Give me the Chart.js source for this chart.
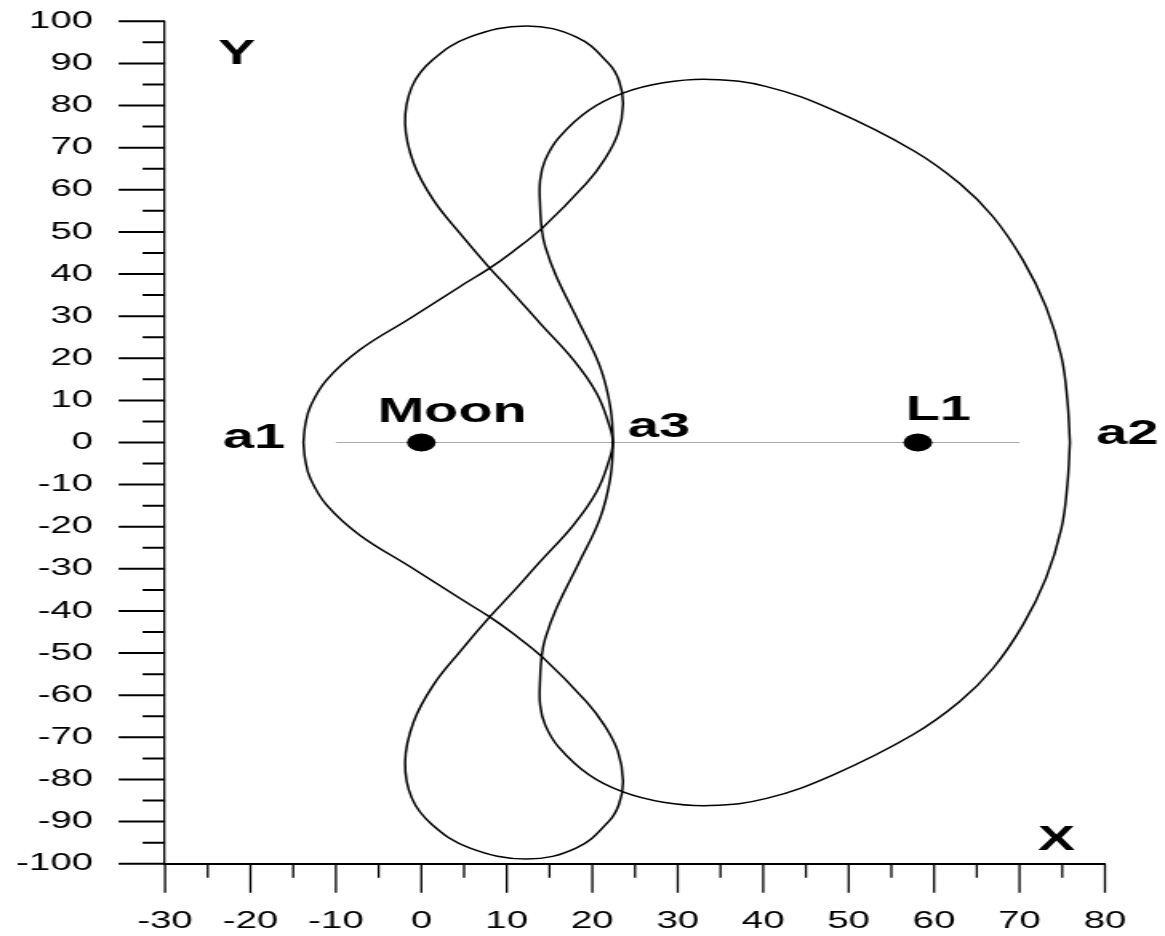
<!DOCTYPE html>
<html>
<head>
<meta charset="utf-8">
<title>Orbit</title>
<script src="https://cdn.jsdelivr.net/npm/chart.js@4"></script>
<style>
  html, body { margin: 0; padding: 0; background: #fff; }
</style>
</head>
<body>
<!-- canvas is drawn narrow and stretched wide, the source figure has wide lettering -->
<canvas id="chart" width="728" height="936" style="width:1165px;height:936px"></canvas>
<script>
// ============================
// Axis ticks
// ============================
const xTickValues = [-30, -20, -10, 0, 10, 20, 30, 40, 50, 60, 70, 80];
const xMinorValues = [-25, -15, -5, 5, 15, 25, 35, 45, 55, 65, 75];
const yTickValues = [-100, -90, -80, -70, -60, -50, -40, -30, -20, -10, 0, 10, 20, 30, 40, 50, 60, 70, 80, 90, 100];
const yMinorValues = [-95, -85, -75, -65, -55, -45, -35, -25, -15, -5, 5, 15, 25, 35, 45, 55, 65, 75, 85, 95];

// ============================
// Trajectory: a1 -> upper loop -> a3 -> lower loop -> a1
// ============================
const loopX = [-13.8, -13.6, -13.0, -11.1, -7.2, -1.3, 4.5, 8.0, 10.7, 14.3, 19.3, 21.4, 23.0, 23.6, 23.1, 21.9, 18.1, 12.3, 5.7, 1.3, -1.1, -1.9, -0.9, 1.4, 4.5, 8.0, 10.4, 13.9, 17.8, 20.5, 21.9, 22.4,
               21.9, 20.5, 17.8, 13.9, 10.4, 8.0, 4.5, 1.4, -0.9, -1.9, -1.1, 1.3, 5.7, 12.3, 18.1, 21.9, 23.1, 23.6, 23.0, 21.4, 19.3, 14.3, 10.7, 8.0, 4.5, -1.3, -7.2, -11.1, -13.0, -13.6, -13.8];
const loopY = [0, 4.0, 8.5, 14.8, 22.0, 29.5, 37.0, 41.4, 45.3, 51.2, 61.5, 67.1, 73.4, 80.5, 86.0, 90.0, 96.3, 98.9, 96.3, 90.8, 84.5, 75.8, 66.3, 57.6, 49.7, 41.4, 36.2, 28.3, 19.6, 11.7, 4.6, 0,
               -4.6, -11.7, -19.6, -28.3, -36.2, -41.4, -49.7, -57.6, -66.3, -75.8, -84.5, -90.8, -96.3, -98.9, -96.3, -90.0, -86.0, -80.5, -73.4, -67.1, -61.5, -51.2, -45.3, -41.4, -37.0, -29.5, -22.0, -14.8, -8.5, -4.0, 0];

// Trajectory: a2 -> upper arc -> a3 -> lower arc -> a2
const arcX = [75.9, 75.6, 74.9, 73.1, 70.4, 66.9, 63.0, 57.5, 48.2, 40.4, 33.8, 28.3, 23.5, 19.6, 16.1, 14.5, 13.9, 13.9, 14.1, 14.5, 15.8, 18.5, 20.9, 22.1, 22.4,
              22.1, 20.9, 18.5, 15.8, 14.5, 14.1, 13.9, 13.9, 14.5, 16.1, 19.6, 23.5, 28.3, 33.8, 40.4, 48.2, 57.5, 63.0, 66.9, 70.4, 73.1, 74.9, 75.6, 75.9];
const arcY = [0, 10.0, 20.4, 32.2, 43.3, 53.6, 61.5, 69.4, 78.9, 84.5, 86.2, 85.4, 82.9, 78.9, 72.4, 67.1, 62.3, 56.0, 50.5, 46.5, 39.4, 28.3, 18.0, 8.5, 0,
              -8.5, -18.0, -28.3, -39.4, -46.5, -50.5, -56.0, -62.3, -67.1, -72.4, -78.9, -82.9, -85.4, -86.2, -84.5, -78.9, -69.4, -61.5, -53.6, -43.3, -32.2, -20.4, -10.0, 0];

// Bodies and the x-axis guide line
const bodyNames = ["Moon", "L1"];
const bodyX = [0, 58.1];
const bodyY = [0, 0];
const guideX = [-10, 70];
const guideY = [0, 0];

// Text labels (data coordinates of baseline centre)
const noteText = ["a1", "Moon", "a3", "L1", "a2", "Y", "X"];
const noteX = [-19.6, 3.6, 27.8, 60.5, 82.6, -21.6, 74.3];
const noteY = [-1.3, 4.9, 1.4, 5.3, -0.4, 89.9, -96.7];

const toPoints = (xs, ys) => xs.map((x, i) => ({ x: x, y: ys[i] }));

// ============================
// Minor/major tick marks + labels
// ============================
const axisMarks = {
  id: "axisMarks",
  afterDraw(chart) {
    const { ctx, chartArea, scales } = chart;
    const left = chartArea.left, bottom = chartArea.bottom;
    ctx.save();
    ctx.strokeStyle = "#000";
    ctx.lineCap = "butt";

    // y ticks (horizontal strokes)
    ctx.lineWidth = 2;
    ctx.beginPath();
    yTickValues.forEach(v => {
      const py = scales.y.getPixelForValue(v);
      ctx.moveTo(left - 29, py);
      ctx.lineTo(left, py);
    });
    yMinorValues.forEach(v => {
      const py = scales.y.getPixelForValue(v);
      ctx.moveTo(left - 14, py);
      ctx.lineTo(left, py);
    });
    ctx.stroke();

    // x ticks (vertical strokes, widened by the stretch)
    ctx.lineWidth = 1.3;
    ctx.beginPath();
    xTickValues.forEach(v => {
      const px = scales.x.getPixelForValue(v);
      ctx.moveTo(px, bottom);
      ctx.lineTo(px, bottom + 29);
    });
    xMinorValues.forEach(v => {
      const px = scales.x.getPixelForValue(v);
      ctx.moveTo(px, bottom);
      ctx.lineTo(px, bottom + 14);
    });
    ctx.stroke();

    // annotations
    ctx.fillStyle = "#000";
    ctx.font = "bold 35px 'Liberation Sans', Arial, sans-serif";
    ctx.textAlign = "center";
    ctx.textBaseline = "alphabetic";
    noteText.forEach((t, i) => {
      ctx.fillText(t, scales.x.getPixelForValue(noteX[i]), scales.y.getPixelForValue(noteY[i]));
    });
    ctx.restore();
  }
};

const tickFont = { family: "'Liberation Sans', Arial, sans-serif", size: 24 };

new Chart(document.getElementById("chart"), {
  type: "scatter",
  data: {
    datasets: [
      {
        label: "bodies",
        data: toPoints(bodyX, bodyY),
        pointRadius: 9,
        pointHoverRadius: 9,
        backgroundColor: "#000",
        borderColor: "#000",
        borderWidth: 0,
        showLine: false
      },
      {
        label: "loop",
        data: toPoints(loopX, loopY),
        showLine: true,
        borderColor: "#000",
        borderWidth: 1.5,
        tension: 0.4,
        pointRadius: 0,
        fill: false
      },
      {
        label: "arc",
        data: toPoints(arcX, arcY),
        showLine: true,
        borderColor: "#000",
        borderWidth: 1.5,
        tension: 0.4,
        pointRadius: 0,
        fill: false
      },
      {
        label: "guide",
        data: toPoints(guideX, guideY),
        showLine: true,
        borderColor: "#a8a8a8",
        borderWidth: 1,
        pointRadius: 0
      }
    ]
  },
  options: {
    responsive: false,
    animation: false,
    events: [],
    layout: { padding: { top: 21.3, right: 37.5, bottom: 0, left: 0 } },
    plugins: {
      legend: { display: false },
      tooltip: { enabled: false }
    },
    scales: {
      x: {
        type: "linear",
        position: "bottom",
        min: -30,
        max: 80,
        afterBuildTicks: s => { s.ticks = xTickValues.map(v => ({ value: v })); },
        afterFit: s => { s.height = 72.3; },
        grid: { display: true, drawOnChartArea: false, drawTicks: true, tickLength: 38, color: "rgba(0,0,0,0)" },
        border: { display: true, color: "#000", width: 2 },
        ticks: {
          autoSkip: false,
          maxRotation: 0,
          padding: 5.4,
          color: "#000",
          font: tickFont,
          callback: v => String(v)
        }
      },
      y: {
        type: "linear",
        position: "left",
        min: -100,
        max: 100,
        afterBuildTicks: s => { s.ticks = yTickValues.map(v => ({ value: v })); },
        afterFit: s => { s.width = 103.1; },
        grid: { display: true, drawOnChartArea: false, drawTicks: true, tickLength: 40, color: "rgba(0,0,0,0)" },
        border: { display: true, color: "#000", width: 1.3 },
        ticks: {
          autoSkip: false,
          padding: 5,
          color: "#000",
          font: tickFont,
          callback: v => String(v)
        }
      }
    }
  },
  plugins: [axisMarks]
});
</script>
</body>
</html>
